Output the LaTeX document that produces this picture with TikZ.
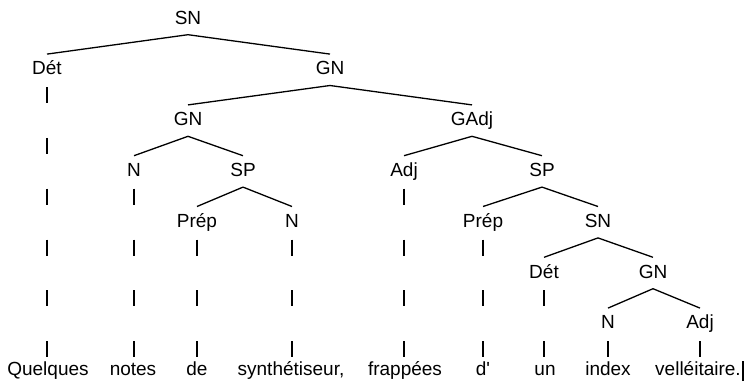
\documentclass[tikz,border=0pt]{standalone}
\usepackage{fontspec}
\setmainfont{Liberation Sans}

\begin{document}
\begin{tikzpicture}[x=1pt, y=-1pt,
    font=\fontsize{19}{22}\selectfont,
    lbl/.style={anchor=base, text height=14pt, text depth=4pt, inner xsep=2pt, inner ysep=6.5pt},
    wd/.style={anchor=base, inner sep=0pt},
    edge/.style={line width=1.3pt},
    bar/.style={line width=1.6pt}]
    \useasboundingbox (0,0) rectangle (750,384);

    \node (sn) [lbl] at (188,24) {SN};
    \node (det) [lbl] at (47,74.8) {Dét};
    \node (gn) [lbl] at (330,74.8) {GN};
    \node (gnA) [lbl] at (188,125.6) {GN};
    \node (gadj) [lbl] at (472,125.6) {GAdj};
    \node (nA) [lbl] at (134,176.4) {N};
    \node (spA) [lbl] at (243,176.4) {SP};
    \node (adjA) [lbl] at (404,176.4) {Adj};
    \node (spB) [lbl] at (542,176.4) {SP};
    \node (prepA) [lbl] at (197,227.2) {Prép};
    \node (nB) [lbl] at (292,227.2) {N};
    \node (prepB) [lbl] at (483,227.2) {Prép};
    \node (snB) [lbl] at (598,227.2) {SN};
    \node (detB) [lbl] at (544,278) {Dét};
    \node (gnB) [lbl] at (653,278) {GN};
    \node (nC) [lbl] at (608,328.8) {N};
    \node (adjB) [lbl] at (700,328.8) {Adj};

    \node (w1) [wd] at (48,375) {Quelques};
    \node (w2) [wd] at (133,375) {notes};
    \node (w3) [wd] at (197,375) {de};
    \node (w4) [wd] at (291,375) {synthétiseur,};
    \node (w5) [wd] at (405,375) {frappées};
    \node (w6) [wd] at (483,375) {d\textquotesingle};
    \node (w7) [wd] at (545,375) {un};
    \node (w8) [wd] at (608,375) {index};
    \node (w9) [wd] at (698,375) {velléitaire.};

    \draw [edge] (sn.south) -- (det.north);
    \draw [edge] (sn.south) -- (gn.north);
    \draw [edge] (gn.south) -- (gnA.north);
    \draw [edge] (gn.south) -- (gadj.north);
    \draw [edge] (gnA.south) -- (nA.north);
    \draw [edge] (gnA.south) -- (spA.north);
    \draw [edge] (gadj.south) -- (adjA.north);
    \draw [edge] (gadj.south) -- (spB.north);
    \draw [edge] (spA.south) -- (prepA.north);
    \draw [edge] (spA.south) -- (nB.north);
    \draw [edge] (spB.south) -- (prepB.north);
    \draw [edge] (spB.south) -- (snB.north);
    \draw [edge] (snB.south) -- (detB.north);
    \draw [edge] (snB.south) -- (gnB.north);
    \draw [edge] (gnB.south) -- (nC.north);
    \draw [edge] (gnB.south) -- (adjB.north);

    \foreach \col/\lev in {det/1, nA/3, prepA/4, nB/4, adjA/3, prepB/4, detB/5, nC/6, adjB/6} {
        \foreach \i in {\lev,...,6} {
            \pgfmathsetmacro\ytop{36.3+50.8*\i}
            \draw [bar] (\col |- 0,\ytop) -- ++(0,16);
        }
    }

    \draw [line width=1.2pt] ([xshift=2pt]w9.base east) ++(0,6) -- ++(0,-20);
\end{tikzpicture}
\end{document}
